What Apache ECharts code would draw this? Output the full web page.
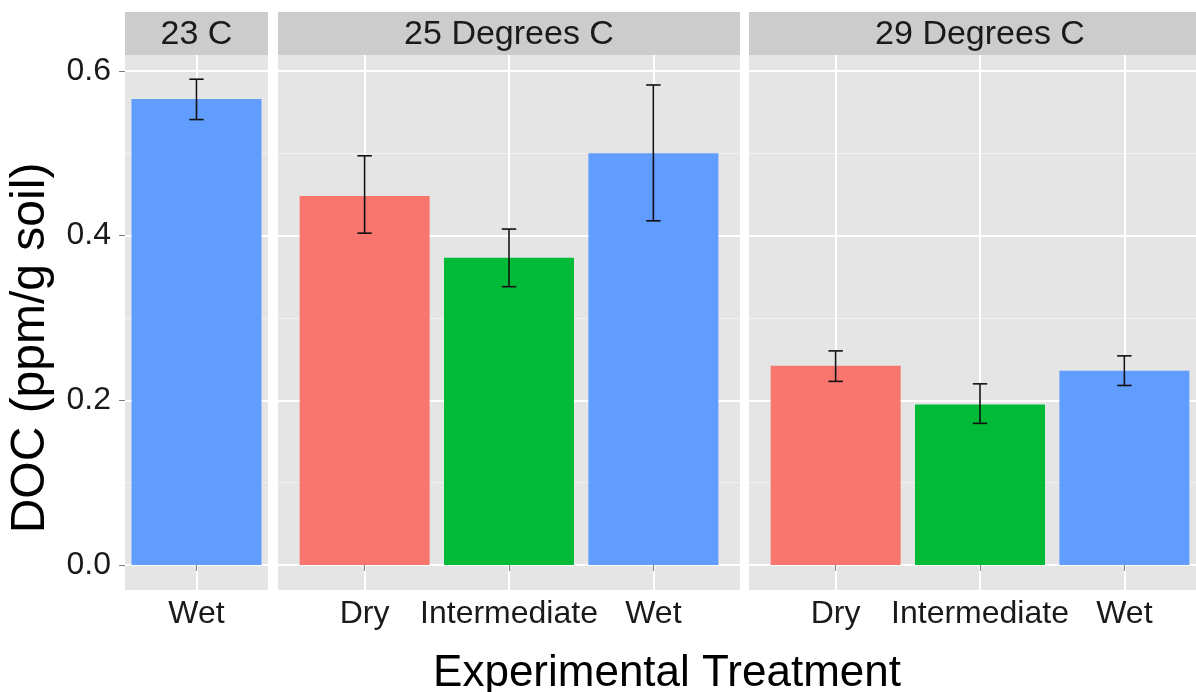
<!DOCTYPE html>
<html>
<head>
<meta charset="utf-8">
<script src="https://cdn.jsdelivr.net/npm/echarts@6/dist/echarts.min.js"></script>
<style>
  html, body { margin: 0; padding: 0; background: #fff; }
  #chart { width: 1196px; height: 692px; }
</style>
</head>
<body>
<div id="chart"></div>
<script>
// facet labels and the treatments inside each facet
const panelNames = ['23 C', '25 Degrees C', '29 Degrees C'];
const panelCategories = [['Wet'], ['Dry', 'Intermediate', 'Wet'], ['Dry', 'Intermediate', 'Wet']];
// mean DOC and error bar ends (ppm/g soil)
const panelMeans = [[0.566], [0.448, 0.373, 0.500], [0.242, 0.195, 0.236]];
const panelLower = [[0.541], [0.403, 0.338, 0.418], [0.223, 0.172, 0.218]];
const panelUpper = [[0.590], [0.497, 0.408, 0.583], [0.260, 0.220, 0.254]];
// y axis ticks
const yTicks = [0, 0.2, 0.4, 0.6];
const yMinorTicks = [0.1, 0.3, 0.5];

const treatmentColors = { Dry: '#F8766D', Intermediate: '#00BA38', Wet: '#619CFF' };
const font = '"Liberation Sans", Arial, sans-serif';
const textColor = '#1a1a1a';

// panel geometry (ggplot facet layout); last panel runs off the right edge
const panelBoxes = [
  { left: 125, width: 143, xMin: 0.5, xMax: 1.5 },
  { left: 278, width: 462, xMin: 0.4, xMax: 3.6 },
  { left: 749, width: 447, xMin: 0.4, xMax: 3.496 }
];
const panelTop = 55, panelHeight = 535;
const yMin = -0.0304, yMax = 0.6194;

let grids = [], xAxes = [], yAxes = [], series = [], graphics = [];

panelBoxes.forEach((box, i) => {
  const cats = panelCategories[i];
  const xVals = cats.map((c, j) => j + 1);
  grids.push({
    left: box.left, width: box.width, top: panelTop, height: panelHeight,
    show: true, backgroundColor: '#E5E5E5', borderWidth: 0
  });
  xAxes.push({
    type: 'value', gridIndex: i, min: box.xMin, max: box.xMax,
    axisLine: { show: false },
    axisTick: { show: true, customValues: xVals, length: 6, lineStyle: { color: '#7f7f7f', width: 1 } },
    axisLabel: {
      customValues: xVals, margin: 8, fontSize: 32, fontFamily: font, color: textColor,
      formatter: v => cats[Math.round(v) - 1]
    },
    splitLine: { show: true, lineStyle: { color: '#ffffff', width: 2 } }
  });
  // major y axis
  yAxes.push({
    type: 'value', gridIndex: i, min: yMin, max: yMax, position: 'left',
    axisLine: { show: false },
    axisTick: { show: i === 0, customValues: yTicks, length: 6, lineStyle: { color: '#7f7f7f', width: 1 } },
    axisLabel: {
      show: i === 0, customValues: yTicks, margin: 14, fontSize: 32, fontFamily: font, color: textColor,
      formatter: v => v.toFixed(1)
    },
    splitLine: { show: true, lineStyle: { color: '#ffffff', width: 2 } }
  });
  // minor grid lines
  yAxes.push({
    type: 'value', gridIndex: i, min: yMin, max: yMax, position: 'left',
    axisLine: { show: false },
    axisTick: { show: false, customValues: yMinorTicks },
    axisLabel: { show: false, customValues: yMinorTicks },
    splitLine: { show: true, lineStyle: { color: '#F2F2F2', width: 1 } }
  });

  series.push({
    type: 'bar', xAxisIndex: i, yAxisIndex: i * 2,
    barWidth: 130,
    data: panelMeans[i].map((v, j) => ({
      value: [xVals[j], v],
      itemStyle: { color: treatmentColors[cats[j]] }
    })),
    silent: true
  });
  series.push({
    type: 'custom', xAxisIndex: i, yAxisIndex: i * 2,
    data: panelMeans[i].map((v, j) => [xVals[j], panelLower[i][j], panelUpper[i][j]]),
    renderItem: (params, api) => {
      const lo = api.coord([api.value(0), api.value(1)]);
      const hi = api.coord([api.value(0), api.value(2)]);
      const half = api.size([0.1, 0])[0] / 2;
      const st = { stroke: '#111', lineWidth: 1.6 };
      return {
        type: 'group',
        children: [
          { type: 'line', shape: { x1: lo[0], y1: lo[1], x2: hi[0], y2: hi[1] }, style: st },
          { type: 'line', shape: { x1: lo[0] - half, y1: lo[1], x2: lo[0] + half, y2: lo[1] }, style: st },
          { type: 'line', shape: { x1: hi[0] - half, y1: hi[1], x2: hi[0] + half, y2: hi[1] }, style: st }
        ]
      };
    },
    z: 5, silent: true
  });

  // facet strip
  graphics.push({
    type: 'rect', shape: { x: box.left, y: 12, width: i === 2 ? 462 : box.width, height: panelTop - 12 },
    style: { fill: '#CCCCCC' }, silent: true
  });
  graphics.push({
    type: 'text', x: box.left + (i === 2 ? 462 : box.width) / 2, y: (12 + panelTop) / 2 + 1,
    style: { text: panelNames[i], fill: textColor, font: '34px ' + font, textAlign: 'center', textVerticalAlign: 'middle' },
    silent: true
  });
});

// axis titles
graphics.push({
  type: 'text', x: 667, y: 674,
  style: { text: 'Experimental Treatment', fill: '#000', font: '44px ' + font, textAlign: 'center', textVerticalAlign: 'middle' },
  silent: true
});
graphics.push({
  type: 'text', x: 31, y: 348, rotation: Math.PI / 2,
  style: { text: 'DOC (ppm/g soil)', fill: '#000', font: '48px ' + font, textAlign: 'center', textVerticalAlign: 'middle' },
  silent: true
});

const chart = echarts.init(document.getElementById('chart'));
chart.setOption({
  animation: false,
  backgroundColor: '#ffffff',
  grid: grids,
  xAxis: xAxes,
  yAxis: yAxes,
  series: series,
  graphic: graphics
});
</script>
</body>
</html>
